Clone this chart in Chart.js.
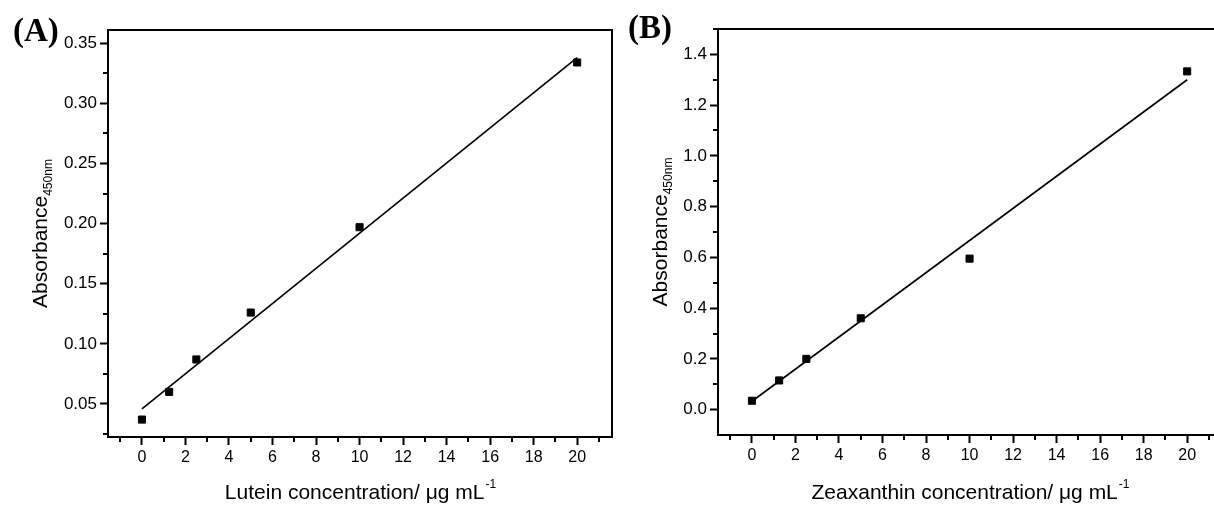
<!DOCTYPE html>
<html lang="en">
<head>
  <meta charset="UTF-8" />
  <title>Lutein and zeaxanthin calibration</title>
  <script src="https://cdn.jsdelivr.net/npm/chart.js"></script>
  <style>
    body {
      margin: 0;
      background: #fff;
      width: 1214px;
      height: 508px;
      overflow: hidden;
      position: relative;
    }
    canvas {
      position: absolute;
      top: 0;
    }
    #chartA { left: 0; }
    #chartB { left: 610px; }
    .panel {
      position: absolute;
      font-family: 'Liberation Serif', 'Times New Roman', serif;
      font-weight: bold;
      font-size: 33px;
      line-height: 1;
      color: #000;
      z-index: 2;
    }
  </style>
</head>
<body>

  <canvas id="chartA" width="620" height="508"></canvas>
  <canvas id="chartB" width="620" height="508"></canvas>
  <div class="panel" style="left:13px; top:14px;">(A)</div>
  <div class="panel" style="left:628px; top:11px;">(B)</div>

  <script>
    // concentrations of the standards (ug/mL)
    const concentrations = [0, 1.25, 2.5, 5, 10, 20];
    const luteinAbs = [0.037, 0.060, 0.087, 0.126, 0.197, 0.334];
    const zeaxanthinAbs = [0.035, 0.115, 0.200, 0.360, 0.595, 1.333];

    // fitted lines, read at both ends
    const fitX = [0, 20];
    const luteinFit = [0.0458, 0.338];
    const zeaxanthinFit = [0.033, 1.300];

    // ticks
    const xTicks = [0, 2, 4, 6, 8, 10, 12, 14, 16, 18, 20];
    const xMinorTicks = [-1, 1, 3, 5, 7, 9, 11, 13, 15, 17, 19, 21];
    const luteinTicks = [0.05, 0.10, 0.15, 0.20, 0.25, 0.30, 0.35];
    const luteinMinorTicks = [0.025, 0.075, 0.125, 0.175, 0.225, 0.275, 0.325];
    const zeaxanthinTicks = [0.0, 0.2, 0.4, 0.6, 0.8, 1.0, 1.2, 1.4];
    const zeaxanthinMinorTicks = [0.1, 0.3, 0.5, 0.7, 0.9, 1.1, 1.3, 1.5];

    const FONT = "'Liberation Sans', Arial, sans-serif";

    function pts(xs, ys) {
      return xs.map((x, i) => ({ x: x, y: ys[i] }));
    }

    // frame, minor ticks and axis titles (with sub/superscripts)
    const framePlugin = {
      id: 'framePlugin',
      afterDraw(chart, args, opts) {
        const { ctx, chartArea: a } = chart;
        const xs = chart.scales.x, ys = chart.scales.y;
        ctx.save();
        ctx.strokeStyle = '#000';
        ctx.lineWidth = 2;
        ctx.beginPath();
        ctx.moveTo(a.left, a.top);
        ctx.lineTo(a.right, a.top);
        ctx.lineTo(a.right, a.bottom);
        ctx.stroke();

        ctx.beginPath();
        opts.xMinor.forEach(v => {
          const px = Math.round(xs.getPixelForValue(v));
          ctx.moveTo(px, a.bottom);
          ctx.lineTo(px, a.bottom + 5);
        });
        opts.yMinor.forEach(v => {
          const py = Math.round(ys.getPixelForValue(v));
          ctx.moveTo(a.left, py);
          ctx.lineTo(a.left - 5, py);
        });
        ctx.stroke();

        ctx.fillStyle = '#000';
        ctx.textAlign = 'left';
        ctx.textBaseline = 'alphabetic';

        // x title
        ctx.font = '21px ' + FONT;
        const main = opts.xTitle;
        const wMain = ctx.measureText(main).width;
        ctx.font = '12px ' + FONT;
        const wSup = ctx.measureText('-1').width;
        const cx = (a.left + a.right) / 2;
        let tx = cx - (wMain + wSup) / 2;
        ctx.font = '21px ' + FONT;
        ctx.fillText(main, tx, 499);
        ctx.font = '12px ' + FONT;
        ctx.fillText('-1', tx + wMain + 1, 488);

        // y title, rotated
        ctx.font = '21px ' + FONT;
        const yMain = 'Absorbance';
        const wy = ctx.measureText(yMain).width;
        ctx.font = '12px ' + FONT;
        const wSub = ctx.measureText('450nm').width;
        const cy = (a.top + a.bottom) / 2;
        ctx.translate(a.left - opts.yTitleGap, cy);
        ctx.rotate(-Math.PI / 2);
        const sx = -(wy + wSub) / 2;
        ctx.font = '21px ' + FONT;
        ctx.fillText(yMain, sx, 0);
        ctx.font = '12px ' + FONT;
        ctx.fillText('450nm', sx + wy, 5);
        ctx.restore();
      }
    };

    function makeChart(id, cfg) {
      return new Chart(document.getElementById(id), {
        type: 'scatter',
        data: {
          datasets: [{
            data: pts(concentrations, cfg.values),
            showLine: false,
            pointStyle: 'rect',
            pointRadius: 5,
            pointBackgroundColor: '#000',
            pointBorderColor: '#000',
            pointBorderWidth: 1
          }, {
            data: pts(fitX, cfg.fit),
            showLine: true,
            borderColor: '#000',
            borderWidth: 1.6,
            pointRadius: 0
          }]
        },
        options: {
          responsive: false,
          animation: false,
          devicePixelRatio: 1,
          layout: { padding: { left: 0, top: cfg.top, right: 8, bottom: 0 } },
          plugins: {
            legend: { display: false },
            tooltip: { enabled: false },
            framePlugin: {
              xMinor: xMinorTicks,
              yMinor: cfg.minor,
              xTitle: cfg.xTitle,
              yTitleGap: cfg.yTitleGap
            }
          },
          scales: {
            x: {
              type: 'linear',
              min: -1.56,
              max: 21.6,
              afterFit: s => { s.height = cfg.xHeight; },
              afterBuildTicks: s => { s.ticks = xTicks.map(v => ({ value: v })); },
              border: { display: true, color: '#000', width: 2 },
              grid: { drawOnChartArea: false, drawTicks: true, tickLength: 8, tickWidth: 2, tickColor: '#000' },
              ticks: { color: '#000', padding: 3, font: { family: FONT, size: 16 } }
            },
            y: {
              type: 'linear',
              min: cfg.yMin,
              max: cfg.yMax,
              afterFit: s => { s.width = 108; },
              afterBuildTicks: s => { s.ticks = cfg.ticks.map(v => ({ value: v })); },
              border: { display: true, color: '#000', width: 2 },
              grid: { drawOnChartArea: false, drawTicks: true, tickLength: 8, tickWidth: 2, tickColor: '#000' },
              ticks: {
                color: '#000',
                padding: 3,
                font: { family: FONT, size: 17 },
                callback: v => v.toFixed(cfg.digits)
              }
            }
          }
        },
        plugins: [framePlugin]
      });
    }

    makeChart('chartA', {
      values: luteinAbs,
      fit: luteinFit,
      ticks: luteinTicks,
      minor: luteinMinorTicks,
      digits: 2,
      yMin: 0.0225,
      yMax: 0.361,
      top: 30,
      xHeight: 71,
      yTitleGap: 61,
      xTitle: 'Lutein concentration/ \u03bcg mL'
    });

    makeChart('chartB', {
      values: zeaxanthinAbs,
      fit: zeaxanthinFit,
      ticks: zeaxanthinTicks,
      minor: zeaxanthinMinorTicks,
      digits: 1,
      yMin: -0.1,
      yMax: 1.5,
      top: 29,
      xHeight: 73,
      yTitleGap: 51,
      xTitle: 'Zeaxanthin concentration/ \u03bcg mL'
    });
  </script>

</body>
</html>
